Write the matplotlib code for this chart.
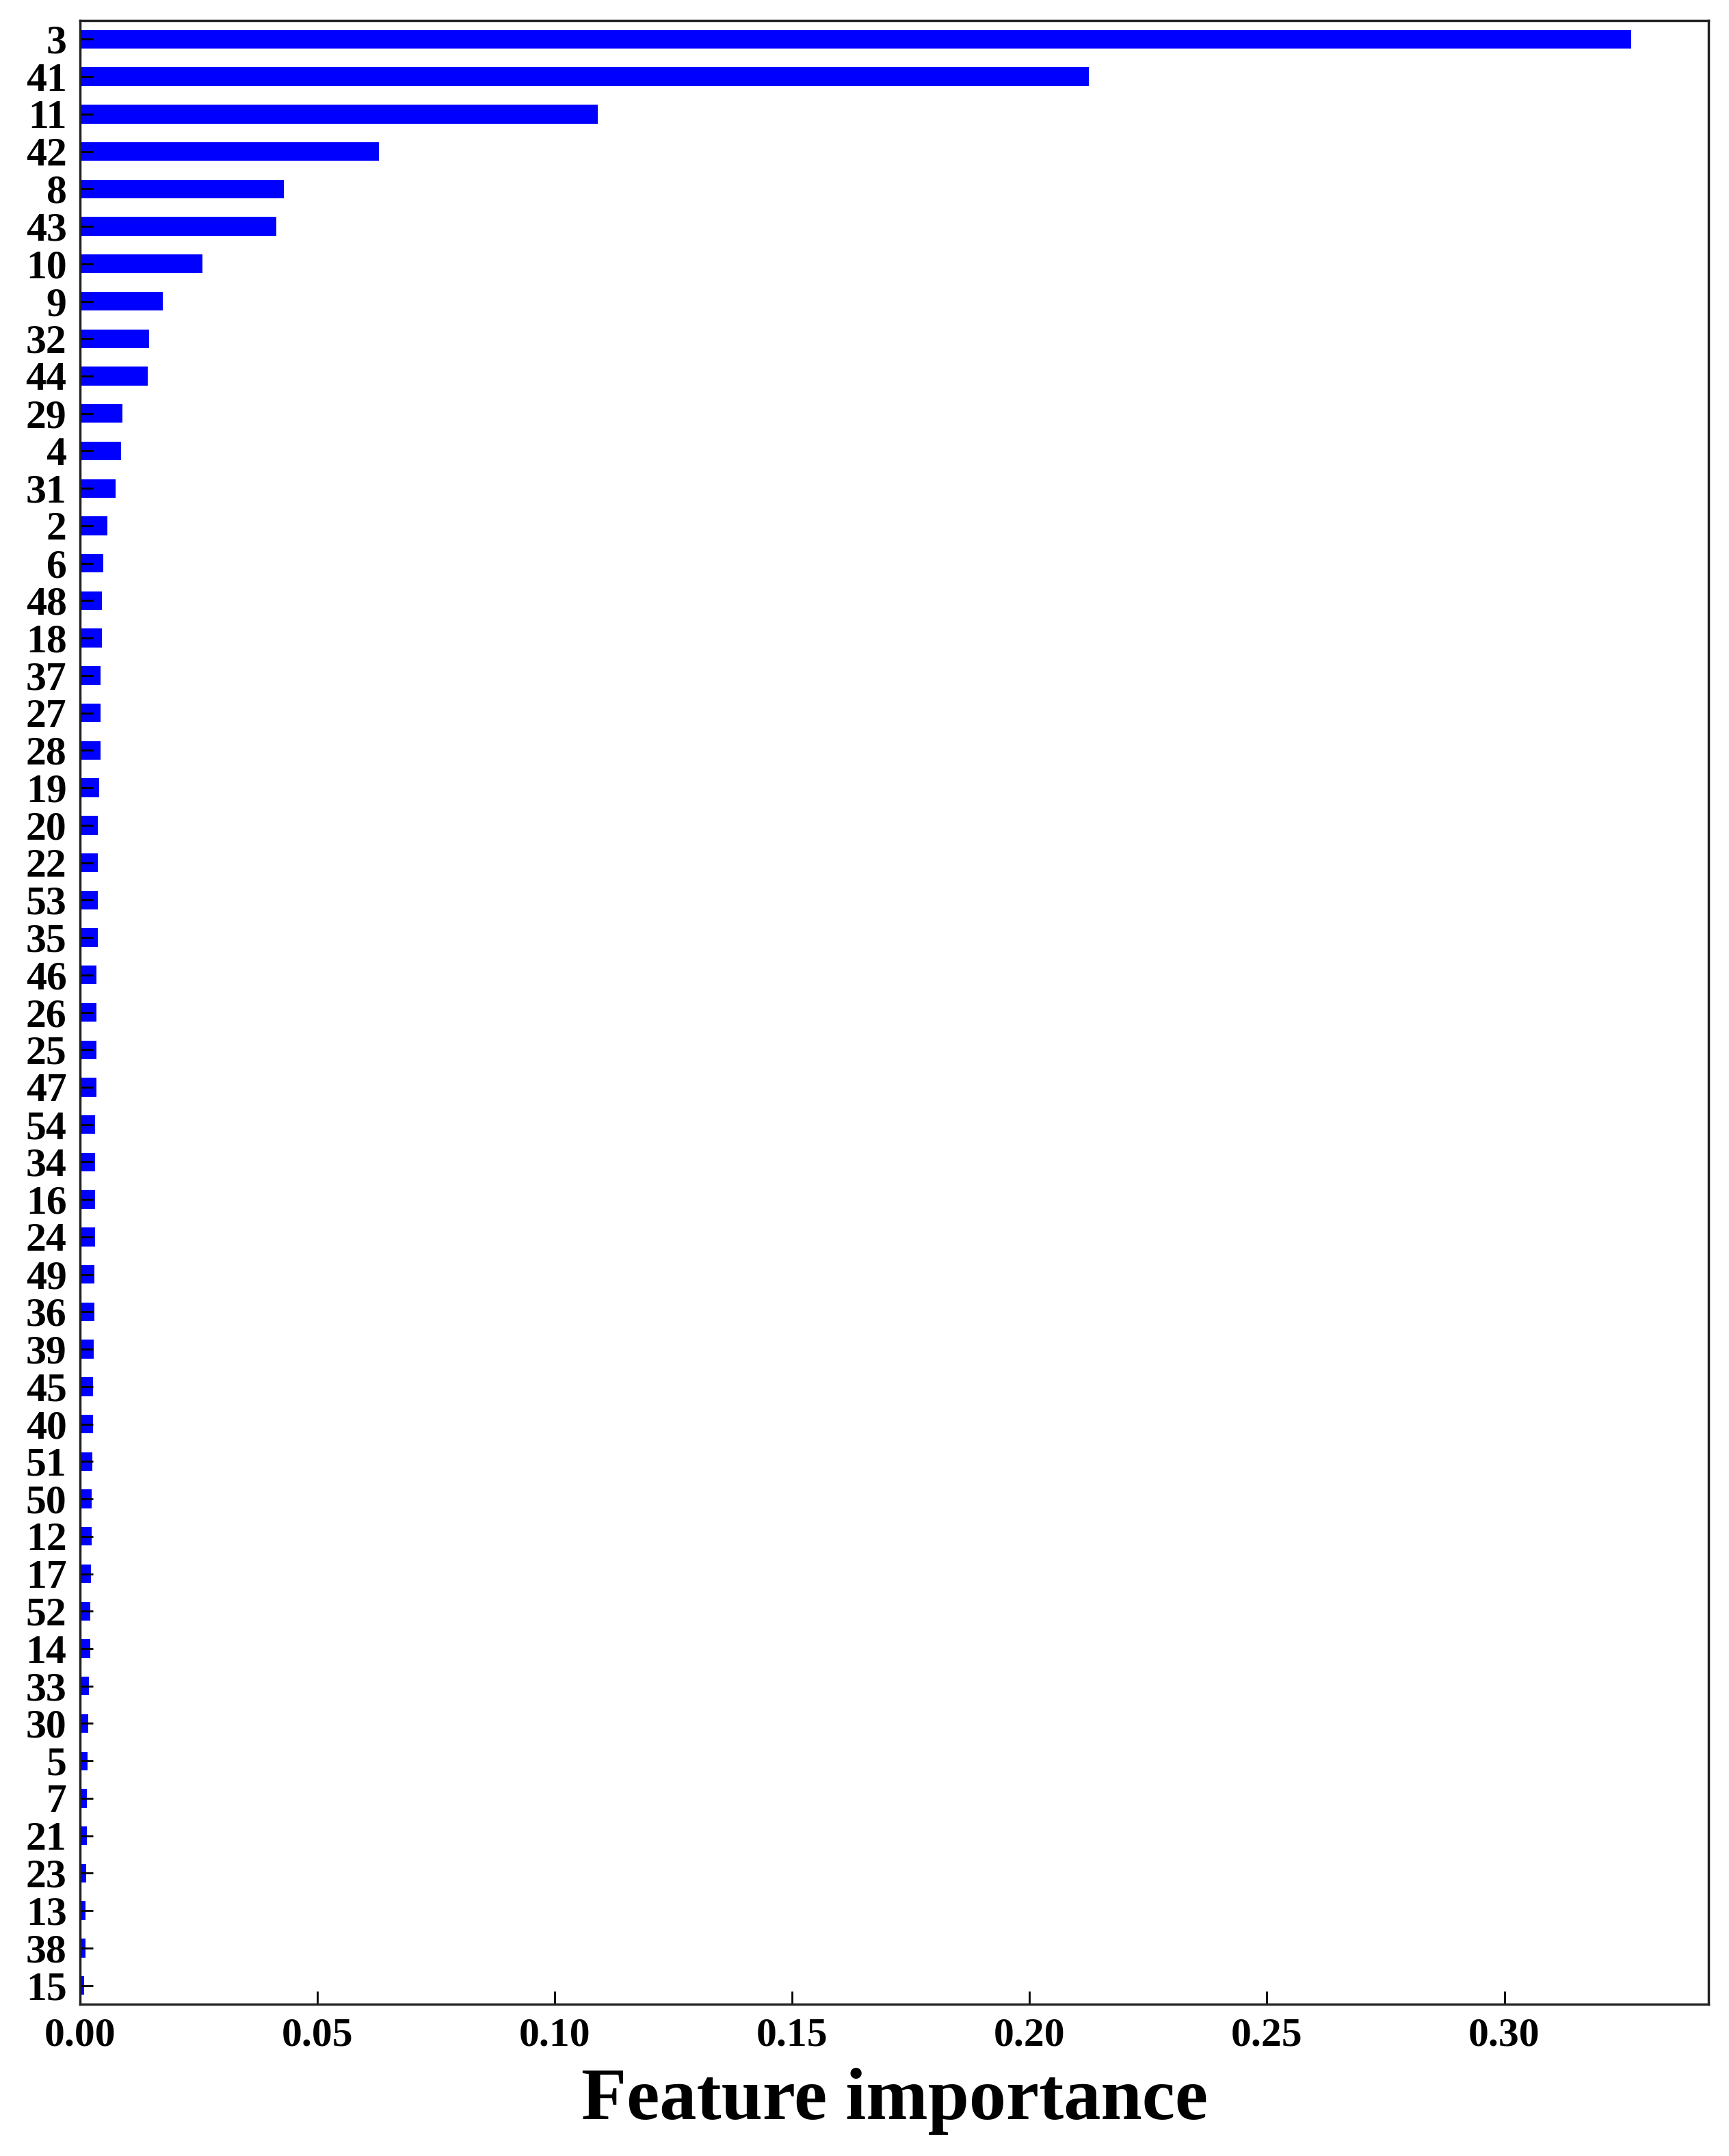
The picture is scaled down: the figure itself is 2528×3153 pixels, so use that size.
import matplotlib.pyplot as plt

# Feature ids, ordered from most to least important
features = ['3', '41', '11', '42', '8', '43', '10', '9', '32', '44', '29', '4', '31', '2',
            '6', '48', '18', '37', '27', '28', '19', '20', '22', '53', '35', '46', '26',
            '25', '47', '54', '34', '16', '24', '49', '36', '39', '45', '40', '51', '50',
            '12', '17', '52', '14', '33', '30', '5', '7', '21', '23', '13', '38', '15']

importance = [0.3267, 0.2125, 0.1090, 0.0629, 0.0429, 0.0414, 0.0258, 0.0174, 0.0145,
              0.0142, 0.0090, 0.0087, 0.0075, 0.0058, 0.0049, 0.0046, 0.0046, 0.0043,
              0.0043, 0.0043, 0.0040, 0.0038, 0.0038, 0.0037, 0.0037, 0.0035, 0.0035,
              0.0034, 0.0034, 0.0032, 0.0032, 0.0031, 0.0031, 0.0030, 0.0030, 0.0029,
              0.0028, 0.0027, 0.0026, 0.0025, 0.0024, 0.0023, 0.0022, 0.0021, 0.0019,
              0.0018, 0.0016, 0.0015, 0.0014, 0.0013, 0.0012, 0.0011, 0.0009]

xticks = [0.00, 0.05, 0.10, 0.15, 0.20, 0.25, 0.30]

plt.rcParams['font.family'] = ['Liberation Serif', 'DejaVu Serif']
plt.rcParams['font.weight'] = 'bold'

fig = plt.figure(figsize=(25.28, 31.53), dpi=100)
ax = fig.add_axes([117 / 2528, 1 - 2931 / 3153, (2498 - 117) / 2528, (2931 - 30) / 3153])

pos = list(range(len(features)))
ax.barh(pos, importance, height=0.5, color='#0000ff')

ax.set_yticks(pos)
ax.set_yticklabels(features)
ax.set_ylim(len(features) - 0.5, -0.5)

ax.set_xlim(0, 0.343)
ax.set_xticks(xticks)
ax.set_xticklabels([f'{t:.2f}' for t in xticks])

ax.tick_params(axis='both', direction='in', length=14, width=2, labelsize=43)
ax.tick_params(axis='y', pad=14)
ax.tick_params(axis='x', pad=14)

for s in ax.spines.values():
    s.set_linewidth(2.5)
    s.set_color('#222222')

ax.set_xlabel('Feature importance', fontsize=78, fontweight='bold', labelpad=14)

fig.savefig('out.png', dpi=100)
